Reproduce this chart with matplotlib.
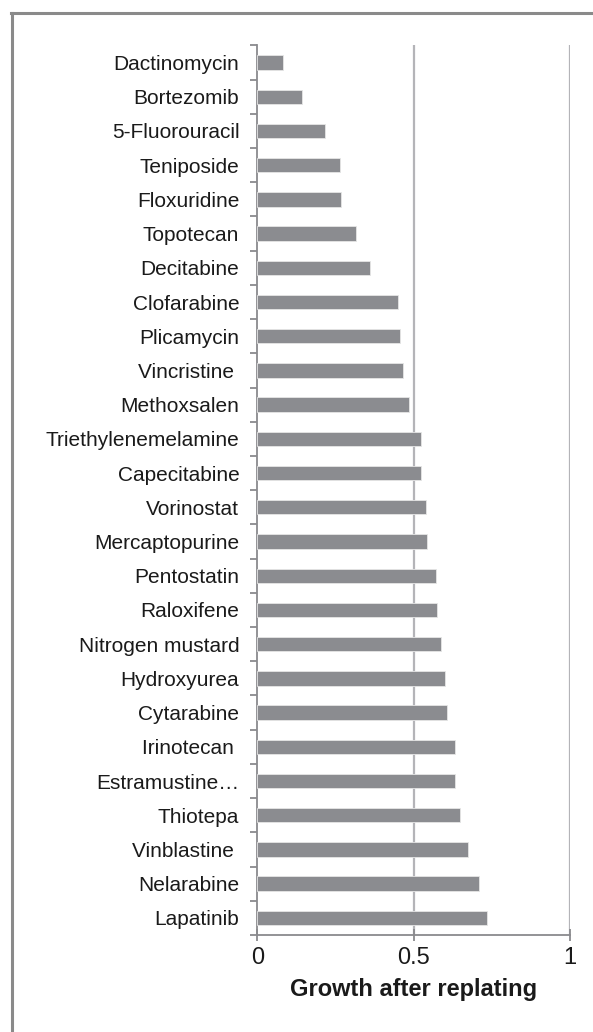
import matplotlib
matplotlib.use('Agg')
import matplotlib.pyplot as plt
from matplotlib.lines import Line2D
import numpy as np

plt.rcParams['font.family'] = ['Liberation Sans', 'DejaVu Sans']

# drugs, top to bottom as in the figure
drugs = ['Dactinomycin', 'Bortezomib', '5-Fluorouracil', 'Teniposide', 'Floxuridine',
         'Topotecan', 'Decitabine', 'Clofarabine', 'Plicamycin', 'Vincristine ',
         'Methoxsalen', 'Triethylenemelamine', 'Capecitabine', 'Vorinostat',
         'Mercaptopurine', 'Pentostatin', 'Raloxifene', 'Nitrogen mustard',
         'Hydroxyurea', 'Cytarabine', 'Irinotecan ', 'Estramustine\u2026', 'Thiotepa',
         'Vinblastine ', 'Nelarabine', 'Lapatinib']
growth = [0.083, 0.144, 0.217, 0.264, 0.268, 0.315, 0.360, 0.450, 0.456, 0.465,
          0.485, 0.523, 0.525, 0.539, 0.542, 0.572, 0.574, 0.588, 0.601, 0.608,
          0.631, 0.634, 0.647, 0.673, 0.708, 0.736]
xticks = [0, 0.5, 1]
xticklabels = ['0', '0.5', '1']

bar_col = '#8b8c90'
grid_col = '#b4b4b8'
axis_col = '#8a8a8e'
txt_col = '#1a1a1a'

fig = plt.figure(figsize=(5.93, 10.32), dpi=100)
ax = fig.add_axes([0.434, 0.094, 0.527, 0.862])

y = np.arange(len(drugs))
ax.barh(y, growth, height=0.42, color=bar_col, edgecolor='#e6e6e6', linewidth=0.6, zorder=3)

for g in xticks[1:]:
    ax.axvline(g, color=grid_col, lw=1.6, zorder=1)

ax.set_xlim(0, 1)
ax.set_ylim(len(drugs) - 0.5, -0.5)

# category separator ticks on the y axis
ax.set_yticks(np.arange(len(drugs) + 1) - 0.5, minor=False)
ax.set_yticklabels([])
ax.set_yticks(y, minor=True)
ax.set_yticklabels(drugs, minor=True, fontsize=15, color=txt_col)
ax.tick_params(axis='y', which='major', length=5, width=1.3, color=axis_col, direction='out')
ax.tick_params(axis='y', which='minor', length=0, pad=13)

ax.set_xticks(xticks)
ax.set_xticklabels(xticklabels, fontsize=17, color=txt_col)
ax.tick_params(axis='x', length=8, width=1.3, color=axis_col, direction='inout', pad=5)
ax.set_xlabel('Growth after replating', fontsize=17, fontweight='bold', color=txt_col, labelpad=6)

for s in ['top', 'right']:
    ax.spines[s].set_visible(False)
for s in ['left', 'bottom']:
    ax.spines[s].set_color(axis_col)
    ax.spines[s].set_linewidth(1.3)

# frame around the panel (only left and top visible)
fig.add_artist(Line2D([0.020, 0.020], [0.0, 0.987], color='#8a8a8a', lw=2.2, transform=fig.transFigure))
fig.add_artist(Line2D([0.018, 1.0], [0.987, 0.987], color='#8a8a8a', lw=2.2, transform=fig.transFigure))

fig.savefig('out.png', dpi=100)
